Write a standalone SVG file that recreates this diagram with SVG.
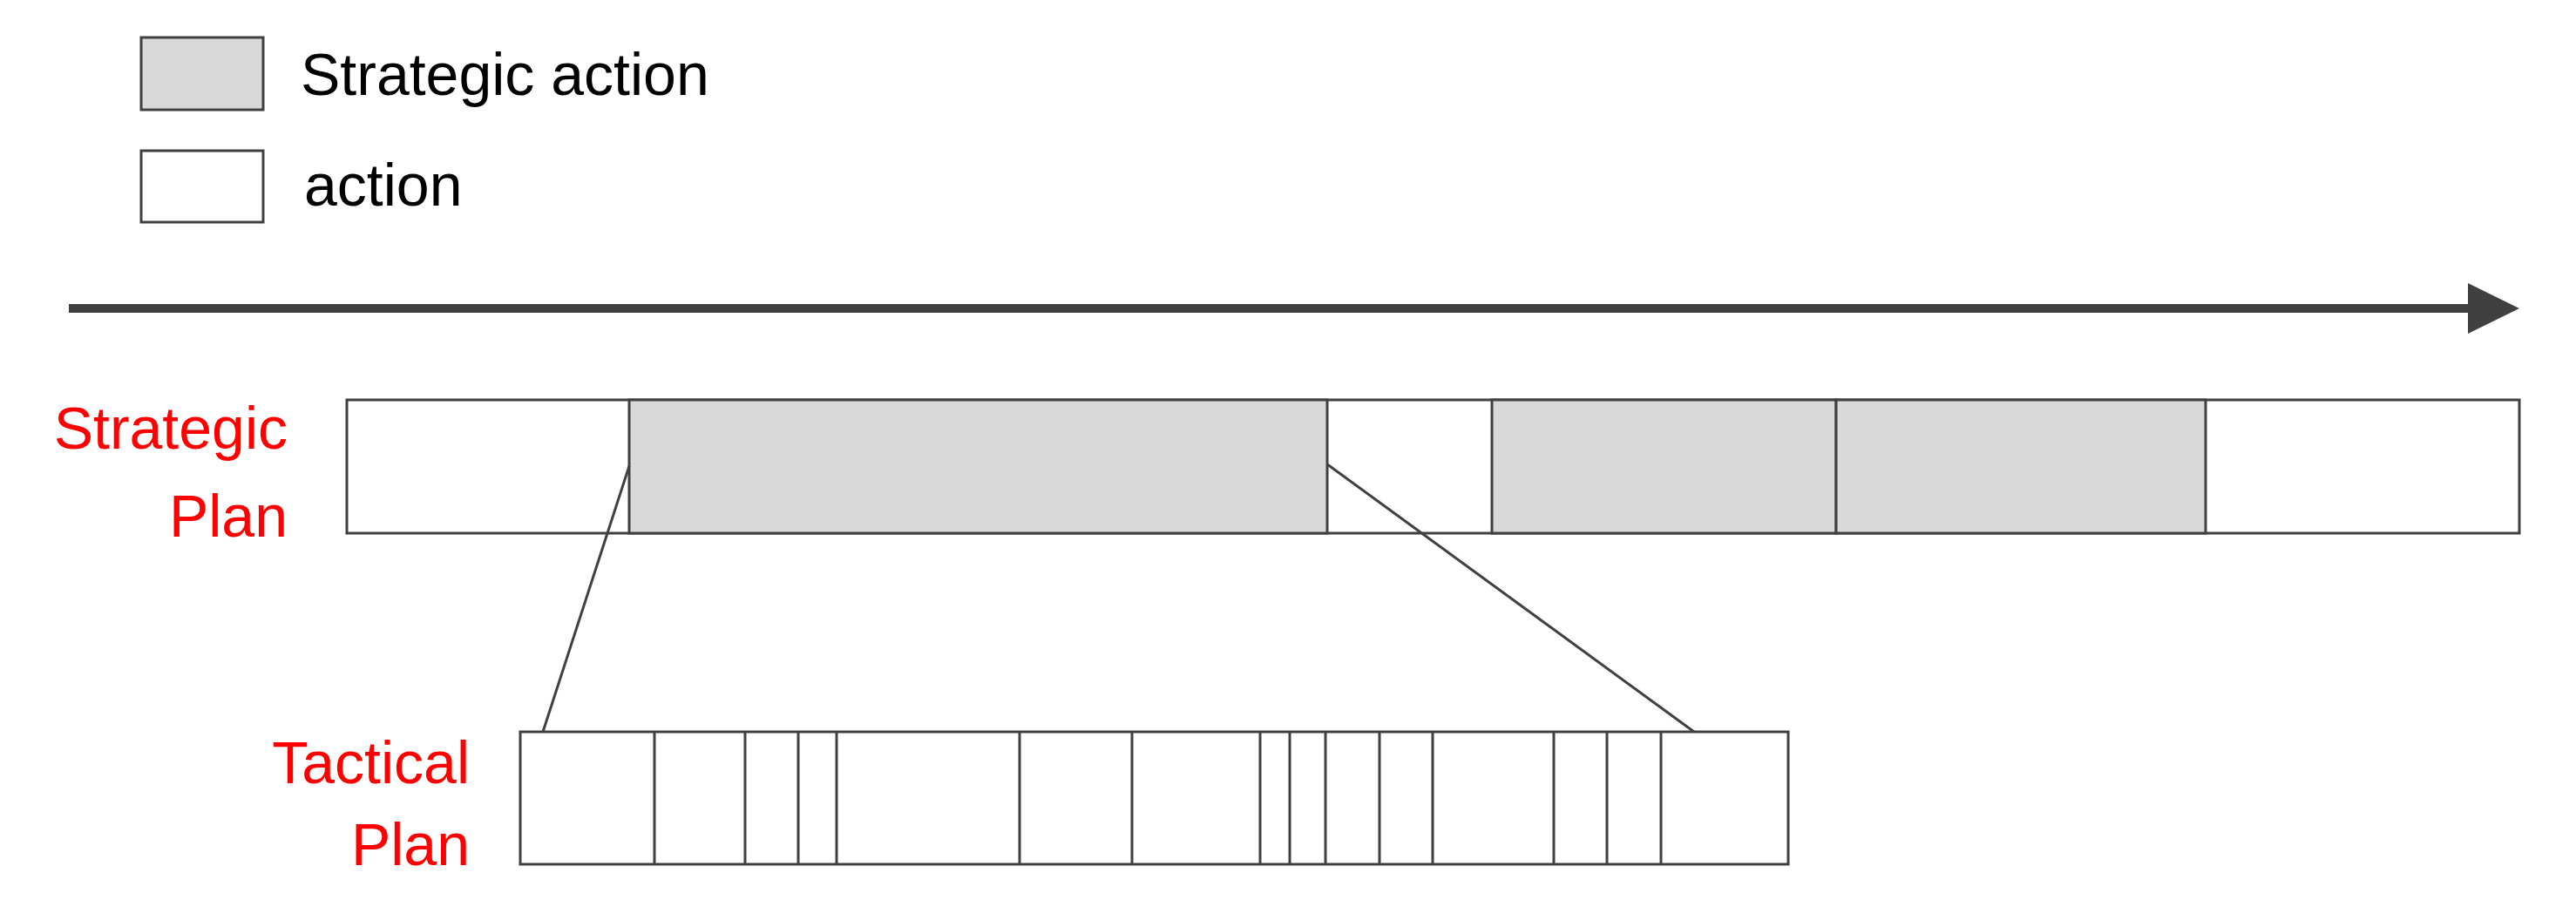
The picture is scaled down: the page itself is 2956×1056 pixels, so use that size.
<svg xmlns="http://www.w3.org/2000/svg" width="2956" height="1056" viewBox="0 0 2956 1056">
<style>
.b{stroke:#404040;stroke-width:3;fill:#fff}
.g{stroke:#404040;stroke-width:3;fill:#d9d9d9}
.d{stroke:#404040;stroke-width:3}
.t{font-family:"Liberation Sans",Arial,sans-serif;font-size:68px;fill:#000}
.r{font-family:"Liberation Sans",Arial,sans-serif;font-size:68px;fill:#ff0000;text-anchor:end}
</style>
<g id="legend">
<rect class="g" x="162" y="43" width="140" height="83"/>
<text class="t" x="345" y="109">Strategic action</text>
<rect class="b" x="162" y="173" width="140" height="82"/>
<text class="t" x="349" y="236">action</text>
</g>
<g id="timeline">
<line x1="79" y1="354" x2="2836" y2="354" stroke="#404040" stroke-width="10"/>
<polygon points="2832,325 2891,354 2832,383" fill="#404040"/>
</g>
<g id="strategic-plan">
<text class="r" x="330" y="515">Strategic</text>
<text class="r" x="330" y="616">Plan</text>
<rect class="b" x="398" y="459" width="2493" height="153"/>
<rect class="g" x="722" y="459" width="801" height="153"/>
<rect class="g" x="1712" y="459" width="395" height="153"/>
<rect class="g" x="2107" y="459" width="424" height="153"/>
</g>
<g id="tactical-plan">
<text class="r" x="539" y="899">Tactical</text>
<text class="r" x="539" y="993">Plan</text>
<rect class="b" x="597" y="840" width="1455" height="152"/>
<path class="d" d="M751 840V992M855 840V992M916 840V992M960 840V992M1170 840V992M1299 840V992M1446 840V992M1480 840V992M1521 840V992M1583 840V992M1644 840V992M1783 840V992M1844 840V992M1906 840V992"/>
</g>
<g id="connectors">
<line class="d" x1="722" y1="535" x2="623" y2="840"/>
<line class="d" x1="1523" y1="533" x2="1944" y2="840"/>
</g>
</svg>
